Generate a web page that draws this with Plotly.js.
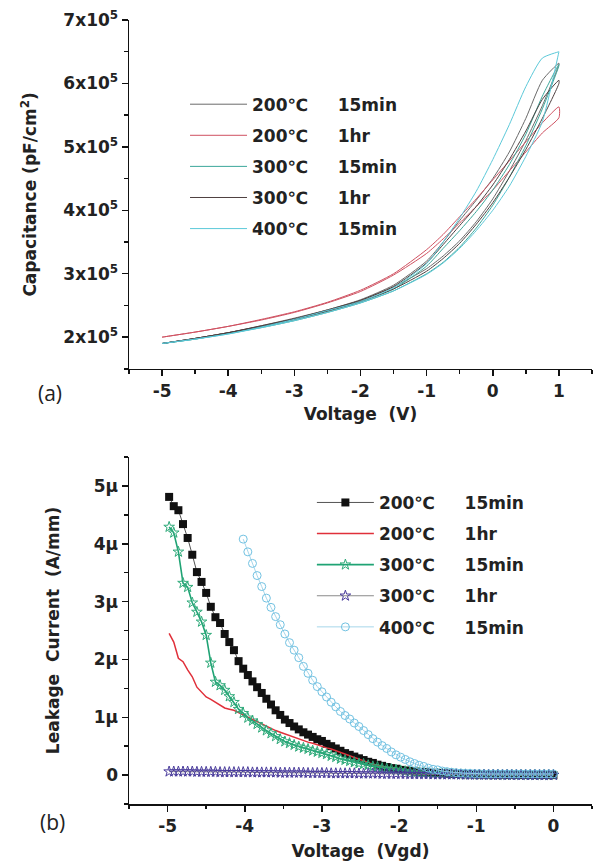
<!DOCTYPE html>
<html>
<head>
<meta charset="utf-8">
<script src="https://cdn.plot.ly/plotly-3.0.1.min.js"></script>
<style>html,body{margin:0;padding:0;background:#fff;}#chart{width:595px;height:863px;}</style>
</head>
<body>
<div id="chart"></div>
<script>
// ---------- (a) C-V data: voltage sweep -5 -> 1 -> -5, capacitance in units of 1e5 pF/cm^2 ----------
var vCV = [-5,-4.5,-4,-3.5,-3,-2.5,-2,-1.5,-1,-0.75,-0.5,-0.25,0,0.25,0.5,0.75,1,
           1,0.75,0.5,0.25,0,-0.25,-0.5,-0.75,-1,-1.5,-2,-2.5,-3,-3.5,-4,-4.5,-5];
var cap200_15 = [1.90,1.98,2.07,2.17,2.29,2.42,2.58,2.79,3.08,3.28,3.52,3.82,4.18,4.62,5.10,5.65,6.30,
                 6.32,6.05,5.45,4.92,4.50,4.16,3.84,3.50,3.20,2.82,2.59,2.43,2.30,2.18,2.07,1.98,1.90];
var cap200_1h = [2.00,2.08,2.17,2.27,2.39,2.54,2.72,2.98,3.32,3.55,3.80,4.06,4.32,4.62,4.92,5.22,5.46,
                 5.63,5.38,5.08,4.78,4.48,4.18,3.90,3.62,3.38,3.00,2.74,2.55,2.40,2.28,2.17,2.08,2.00];
var cap300_15 = [1.90,1.97,2.06,2.15,2.26,2.39,2.54,2.73,3.00,3.18,3.42,3.72,4.08,4.52,5.02,5.60,6.28,
                 6.30,5.80,5.20,4.72,4.32,3.98,3.68,3.40,3.12,2.76,2.56,2.41,2.28,2.16,2.06,1.97,1.90];
var cap300_1h = [1.90,1.98,2.07,2.17,2.28,2.41,2.56,2.76,3.04,3.24,3.48,3.78,4.12,4.52,4.96,5.45,6.00,
                 6.05,5.75,5.25,4.80,4.40,4.06,3.76,3.46,3.17,2.80,2.58,2.43,2.29,2.18,2.07,1.98,1.90];
var cap400_15 = [1.90,1.97,2.05,2.15,2.26,2.39,2.54,2.73,2.99,3.17,3.40,3.68,4.00,4.38,4.85,5.40,6.50,
                 6.50,6.40,5.95,5.35,4.80,4.30,3.88,3.50,3.16,2.78,2.56,2.42,2.28,2.16,2.05,1.97,1.90];
var capTickVals = [2,3,4,5,6,7];
var capTickText = ["2x10<sup>5</sup>","3x10<sup>5</sup>","4x10<sup>5</sup>","5x10<sup>5</sup>","6x10<sup>5</sup>","7x10<sup>5</sup>"];
var cvTickVals = [-5,-4,-3,-2,-1,0,1];
var cvTickText = ["-5","-4","-3","-2","-1","0","1"];

// ---------- (b) leakage current data (uA/mm) ----------
var vLeak = [-4.98,-4.92,-4.86,-4.80,-4.74,-4.68,-4.62,-4.56,-4.50,-4.44,
             -4.38,-4.32,-4.26,-4.20,-4.14,-4.08,-4.02,-3.96,-3.90,-3.84,
             -3.78,-3.72,-3.66,-3.60,-3.54,-3.48,-3.42,-3.36,-3.30,-3.24,
             -3.18,-3.12,-3.06,-3.00,-2.94,-2.88,-2.82,-2.76,-2.70,-2.64,
             -2.58,-2.52,-2.46,-2.40,-2.34,-2.28,-2.22,-2.16,-2.10,-2.04,
             -1.98,-1.92,-1.86,-1.80,-1.74,-1.68,-1.62,-1.56,-1.50,-1.44,
             -1.38,-1.32,-1.26,-1.20,-1.14,-1.08,-1.02,-0.96,-0.90,-0.84,
             -0.78,-0.72,-0.66,-0.60,-0.54,-0.48,-0.42,-0.36,-0.30,-0.24,
             -0.18,-0.12,-0.06,0.00];
var vLeak400 = [-4.02,-3.96,-3.90,-3.84,-3.78,-3.72,-3.66,-3.60,-3.54,-3.48,
                -3.42,-3.36,-3.30,-3.24,-3.18,-3.12,-3.06,-3.00,-2.94,-2.88,
                -2.82,-2.76,-2.70,-2.64,-2.58,-2.52,-2.46,-2.40,-2.34,-2.28,
                -2.22,-2.16,-2.10,-2.04,-1.98,-1.92,-1.86,-1.80,-1.74,-1.68,
                -1.62,-1.56,-1.50,-1.44,-1.38,-1.32,-1.26,-1.20,-1.14,-1.08,
                -1.02,-0.96,-0.90,-0.84,-0.78,-0.72,-0.66,-0.60,-0.54,-0.48,
                -0.42,-0.36,-0.30,-0.24,-0.18,-0.12,-0.06,0.00];
var leak200_15 = [4.81,4.65,4.58,4.34,4.10,3.81,3.51,3.34,3.15,2.91,
                  2.73,2.63,2.44,2.30,2.16,1.97,1.84,1.73,1.62,1.52,
                  1.42,1.32,1.22,1.12,1.04,0.96,0.90,0.84,0.79,0.74,
                  0.70,0.66,0.62,0.59,0.54,0.50,0.46,0.42,0.38,0.35,
                  0.32,0.29,0.26,0.23,0.21,0.18,0.16,0.14,0.12,0.11,
                  0.09,0.08,0.07,0.06,0.055,0.05,0.045,0.04,0.035,0.03,
                  0.026,0.022,0.019,0.016,0.014,0.012,0.010,0.009,0.008,0.007,
                  0.006,0.005,0.005,0.004,0.004,0.003,0.003,0.002,0.002,0.002,
                  0.001,0.001,0.0,0.0];
var leak200_1h = [2.45,2.30,2.02,1.96,1.82,1.70,1.52,1.44,1.35,1.31,
                  1.26,1.22,1.16,1.14,1.12,1.08,1.04,1.00,0.96,0.92,
                  0.88,0.84,0.80,0.77,0.74,0.71,0.68,0.65,0.62,0.60,
                  0.57,0.55,0.52,0.50,0.47,0.45,0.42,0.39,0.36,0.33,
                  0.30,0.27,0.24,0.22,0.19,0.17,0.15,0.13,0.11,0.10,
                  0.09,0.08,0.07,0.06,0.05,0.045,0.04,0.035,0.03,0.026,
                  0.022,0.019,0.016,0.014,0.012,0.010,0.009,0.008,0.007,0.006,
                  0.005,0.005,0.004,0.004,0.003,0.003,0.002,0.002,0.002,0.001,
                  0.001,0.001,0.0,0.0];
var leak300_15 = [4.29,4.19,3.86,3.32,3.25,2.98,2.82,2.65,2.42,1.94,
                  1.61,1.55,1.47,1.36,1.26,1.14,1.07,0.99,0.94,0.88,
                  0.82,0.77,0.72,0.67,0.62,0.58,0.55,0.52,0.49,0.47,
                  0.45,0.42,0.40,0.38,0.36,0.33,0.31,0.28,0.26,0.24,
                  0.22,0.20,0.19,0.17,0.15,0.14,0.12,0.11,0.10,0.09,
                  0.08,0.065,0.055,0.045,0.04,0.035,0.03,0.025,0.022,0.02,
                  0.017,0.015,0.013,0.011,0.01,0.009,0.008,0.007,0.006,0.005,
                  0.005,0.004,0.004,0.003,0.003,0.003,0.002,0.002,0.002,0.001,
                  0.001,0.001,0.0,0.0];
var leak300_1h = [0.06,0.06,0.06,0.06,0.06,0.06,0.055,0.055,0.055,0.055,
                  0.055,0.05,0.05,0.05,0.05,0.05,0.05,0.05,0.045,0.045,
                  0.045,0.045,0.045,0.045,0.04,0.04,0.04,0.04,0.04,0.04,
                  0.035,0.035,0.035,0.035,0.035,0.03,0.03,0.03,0.03,0.03,
                  0.03,0.025,0.025,0.025,0.025,0.025,0.02,0.02,0.02,0.02,
                  0.02,0.02,0.015,0.015,0.015,0.015,0.015,0.01,0.01,0.01,
                  0.01,0.01,0.01,0.008,0.008,0.006,0.006,0.005,0.005,0.004,
                  0.004,0.003,0.003,0.003,0.002,0.002,0.002,0.001,0.001,0.001,
                  0.001,0.0,0.0,0.0];
var leak400_15 = [4.08,3.86,3.66,3.45,3.26,3.06,2.90,2.74,2.60,2.44,
                  2.29,2.16,2.03,1.88,1.76,1.64,1.53,1.44,1.35,1.26,
                  1.18,1.10,1.03,0.97,0.90,0.84,0.77,0.70,0.63,0.57,
                  0.51,0.46,0.40,0.35,0.31,0.27,0.23,0.20,0.17,0.15,
                  0.12,0.10,0.09,0.07,0.06,0.05,0.04,0.035,0.03,0.03,
                  0.025,0.025,0.02,0.02,0.02,0.02,0.02,0.02,0.02,0.02,
                  0.02,0.02,0.02,0.02,0.02,0.02,0.02,0.02];
var leakTickVals = [0,1,2,3,4,5];
var leakTickText = ["0","1\u03bc","2\u03bc","3\u03bc","4\u03bc","5\u03bc"];
var leakXTickVals = [-5,-4,-3,-2,-1,0];
var leakXTickText = ["-5","-4","-3","-2","-1","0"];

var seriesNames = ["200\u2103\u00a0\u00a0\u00a0\u00a0\u00a015min","200\u2103\u00a0\u00a0\u00a0\u00a0\u00a01hr",
                   "300\u2103\u00a0\u00a0\u00a0\u00a0\u00a015min","300\u2103\u00a0\u00a0\u00a0\u00a0\u00a01hr",
                   "400\u2103\u00a0\u00a0\u00a0\u00a0\u00a015min"];

var FONT = "DejaVu Sans, Liberation Sans, Arial, sans-serif";
var boldFont = function(sz){ return {family: FONT, size: sz, color: "#222", weight: "bold"}; };

var cvColors = ["#6a6a6a","#cf5060","#3ba79a","#4e4040","#5cc9d9"];
var cvData = [cap200_15, cap200_1h, cap300_15, cap300_1h, cap400_15];
var traces = [];
for (var i = 0; i < cvData.length; i++) {
  traces.push({
    x: vCV, y: cvData[i], xaxis: "x", yaxis: "y", type: "scatter", mode: "lines",
    name: seriesNames[i], legend: "legend", legendgroup: "a" + i,
    line: {color: cvColors[i], width: 1, shape: "spline", smoothing: 0.6}
  });
}
traces.push({x: vLeak, y: leak200_15, xaxis: "x2", yaxis: "y2", type: "scatter", mode: "lines+markers",
  name: seriesNames[0], legend: "legend2", legendgroup: "b0",
  line: {color: "#555", width: 1}, marker: {symbol: "square", size: 8, color: "#111"}});
traces.push({x: vLeak, y: leak200_1h, xaxis: "x2", yaxis: "y2", type: "scatter", mode: "lines",
  name: seriesNames[1], legend: "legend2", legendgroup: "b1",
  line: {color: "#e0303a", width: 1.5}});
traces.push({x: vLeak, y: leak300_15, xaxis: "x2", yaxis: "y2", type: "scatter", mode: "lines+markers",
  name: seriesNames[2], legend: "legend2", legendgroup: "b2",
  line: {color: "#1fa374", width: 1.6}, marker: {symbol: "star-open", size: 8, color: "#2faa7a", line: {width: 1}}});
traces.push({x: vLeak, y: leak300_1h, xaxis: "x2", yaxis: "y2", type: "scatter", mode: "lines+markers",
  name: seriesNames[3], legend: "legend2", legendgroup: "b3",
  line: {color: "#8a8a8a", width: 1}, marker: {symbol: "star-open", size: 8, color: "#4a3c9c", line: {width: 1}}});
traces.push({x: vLeak400, y: leak400_15, xaxis: "x2", yaxis: "y2", type: "scatter", mode: "lines+markers",
  name: seriesNames[4], legend: "legend2", legendgroup: "b4",
  line: {color: "#a6d6ea", width: 1}, marker: {symbol: "circle-open", size: 8, color: "#72c2e2", line: {width: 1}}});

var axisCommon = {
  showline: true, linecolor: "#111", linewidth: 1.5, mirror: false,
  ticks: "outside", ticklen: 6, tickwidth: 1.5, tickcolor: "#111",
  showgrid: false, zeroline: false, tickfont: boldFont(17)
};
var minorTicks = {ticks: "outside", ticklen: 3.5, tickwidth: 1.5, tickcolor: "#111", dtick: 0.5, tick0: 0, showgrid: false};
function ax(extra){ var o = JSON.parse(JSON.stringify(axisCommon)); o.minor = JSON.parse(JSON.stringify(minorTicks)); for (var k in extra) o[k] = extra[k]; return o; }

var legendCommon = {
  font: boldFont(17), bgcolor: "rgba(0,0,0,0)", borderwidth: 0,
  itemwidth: 57, tracegroupgap: 6, xanchor: "left", yanchor: "top", itemclick: false
};
function lg(extra){ var o = JSON.parse(JSON.stringify(legendCommon)); for (var k in extra) o[k] = extra[k]; return o; }

var layout = {
  width: 595, height: 863,
  margin: {l: 129, r: 3, t: 20, b: 59},
  paper_bgcolor: "#fff", plot_bgcolor: "#fff",
  showlegend: true,
  xaxis: ax({domain: [0, 1], anchor: "y", range: [-5.5, 1.5], tickmode: "array", tickvals: cvTickVals, ticktext: cvTickText,
    title: {text: "Voltage\u00a0\u00a0(V)", font: boldFont(17), standoff: 8}}),
  yaxis: ax({domain: [0.555, 1], anchor: "x", range: [1.5, 7], tickmode: "array", tickvals: capTickVals, ticktext: capTickText,
    title: {text: "Capacitance (pF/cm<sup>2</sup>)", font: boldFont(17), standoff: 22}}),
  xaxis2: ax({domain: [0, 1], anchor: "y2", range: [-5.5, 0.5], tickmode: "array", tickvals: leakXTickVals, ticktext: leakXTickText,
    title: {text: "Voltage\u00a0\u00a0(Vgd)", font: boldFont(17), standoff: 10}}),
  yaxis2: ax({domain: [0, 0.4426], anchor: "x2", range: [-0.5, 5.5], tickmode: "array", tickvals: leakTickVals, ticktext: leakTickText,
    title: {text: "Leakage\u00a0\u00a0Current\u00a0\u00a0(A/mm)", font: boldFont(17), standoff: 30}}),
  legend: lg({x: 0.121, y: 0.915}),
  legend2: lg({x: 0.395, y: 0.407}),
  annotations: [
    {text: "(a)", xref: "paper", yref: "paper", x: -0.171, y: 0.524, xanchor: "center", yanchor: "middle",
     showarrow: false, font: {family: "Open Sans, DejaVu Sans, sans-serif", size: 21, color: "#222"}},
    {text: "(b)", xref: "paper", yref: "paper", x: -0.166, y: -0.023, xanchor: "center", yanchor: "middle",
     showarrow: false, font: {family: "Open Sans, DejaVu Sans, sans-serif", size: 21, color: "#222"}}
  ]
};

Plotly.newPlot("chart", traces, layout, {staticPlot: true, displayModeBar: false});
</script>
</body>
</html>
